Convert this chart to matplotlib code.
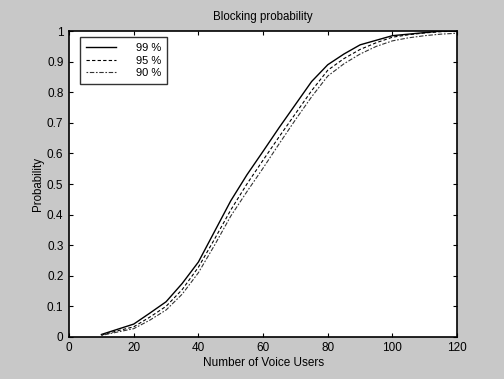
import matplotlib
matplotlib.use("Agg")
import matplotlib.pyplot as plt

users = [10, 15, 20, 25, 30, 35, 40, 45, 50, 55, 60, 65, 70, 75, 80, 85, 90, 95, 100, 105, 110, 115, 120]
p99 = [0.008, 0.025, 0.042, 0.078, 0.115, 0.175, 0.245, 0.345, 0.445, 0.530, 0.607, 0.685, 0.760,
       0.835, 0.890, 0.925, 0.955, 0.970, 0.985, 0.990, 0.995, 1.000, 1.000]
p95 = [0.006, 0.020, 0.033, 0.065, 0.100, 0.155, 0.228, 0.320, 0.415, 0.500, 0.578, 0.655, 0.730,
       0.805, 0.872, 0.910, 0.940, 0.962, 0.980, 0.988, 0.994, 0.998, 1.000]
p90 = [0.005, 0.016, 0.027, 0.055, 0.088, 0.140, 0.210, 0.300, 0.395, 0.475, 0.552, 0.632, 0.710,
       0.785, 0.853, 0.893, 0.925, 0.950, 0.968, 0.978, 0.985, 0.990, 0.993]
labels = ["99 %", "95 %", "90 %"]
xticks = [0, 20, 40, 60, 80, 100, 120]
yticks = [0, 0.1, 0.2, 0.3, 0.4, 0.5, 0.6, 0.7, 0.8, 0.9, 1]
yticklabels = ['0', '0.1', '0.2', '0.3', '0.4', '0.5', '0.6', '0.7', '0.8', '0.9', '1']

plt.rcParams['font.family'] = ['Liberation Sans', 'DejaVu Sans']
fig = plt.figure(figsize=(5.04, 3.79), dpi=100)
fig.patch.set_facecolor('#c8c8c8')
ax = fig.add_axes([0.137, 0.111, 0.770, 0.807])
ax.set_facecolor('white')

ax.plot(users, p99, color='black', lw=1.0, ls='-', label=labels[0])
ax.plot(users, p95, color='black', lw=0.8, ls=(0, (3, 2)), label=labels[1])
ax.plot(users, p90, color='#333333', lw=0.8, ls=(0, (1.5, 1.5, 4, 1.5)), label=labels[2])

ax.set_xlim(0, 120)
ax.set_ylim(0, 1)
ax.set_xticks(xticks)
ax.set_yticks(yticks)
ax.set_xticklabels([str(v) for v in xticks])
ax.set_yticklabels(yticklabels)
ax.tick_params(direction='in', top=True, right=True, length=3, labelsize=8.5, pad=4)
for s in ax.spines.values():
    s.set_linewidth(1.2)

ax.set_title('Blocking probability', fontsize=8.3, pad=8)
ax.set_xlabel('Number of Voice Users', fontsize=8.5, labelpad=2)
ax.set_ylabel('Probability', fontsize=8.3, labelpad=2)

leg = ax.legend(loc='upper left', fontsize=8, frameon=True, fancybox=False,
                edgecolor='black', handlelength=2.7, handletextpad=1.8,
                borderpad=0.55, labelspacing=0.2, bbox_to_anchor=(0.028, 0.98),
                borderaxespad=0)
leg.get_frame().set_linewidth(1.0)

fig.savefig('out.png', dpi=100, facecolor=fig.get_facecolor())
